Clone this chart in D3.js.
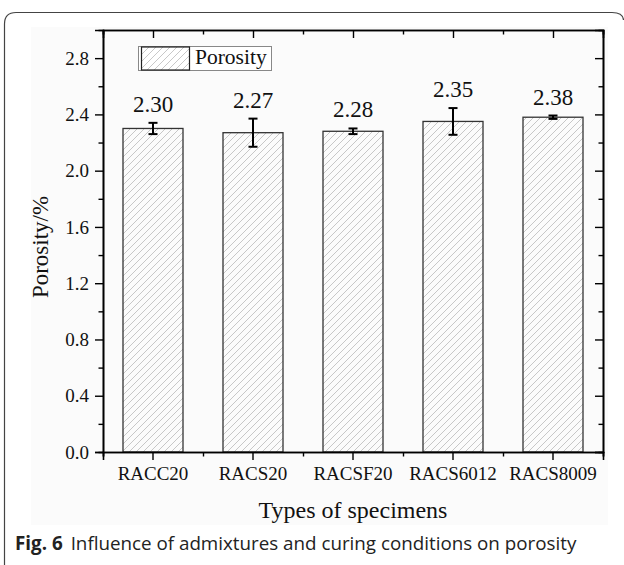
<!DOCTYPE html>
<html lang="en">
<head>
    <meta charset="UTF-8">
    <title>Porosity of specimens</title>
    <script src="https://cdn.jsdelivr.net/npm/d3@7"></script>
    <style>
        body { margin: 0; background: #fff; }
        svg { display: block; }
    </style>
</head>
<body>
<svg id="chart" width="624" height="565"></svg>
<script>
    // data
    const categories = ["RACC20", "RACS20", "RACSF20", "RACS6012", "RACS8009"];
    const porosity = [2.30, 2.27, 2.28, 2.35, 2.38];
    const errors = [0.04, 0.10, 0.02, 0.095, 0.012];
    const yTicks = [0.0, 0.4, 0.8, 1.2, 1.6, 2.0, 2.4, 2.8];
    const yMinorTicks = [0.2, 0.6, 1.0, 1.4, 1.8, 2.2, 2.6];

    const SERIF = '"Liberation Serif", "Times New Roman", serif';
    const SANS = '"Open Sans", "Noto Sans", sans-serif';

    const svg = d3.select("#chart");
    const margin = {left: 103, right: 603, top: 30, bottom: 452};

    // outer frame of the figure box (rounded top, open bottom)
    svg.append("path")
        .attr("d", "M4.5,565 L4.5,24 Q4.5,12.5 16,12.5 L612,12.5 Q623,12.5 623.5,20")
        .attr("fill", "none")
        .attr("stroke", "#444")
        .attr("stroke-width", 1.2);

    // light tint of the embedded chart image
    svg.append("rect")
        .attr("x", 31).attr("y", 27)
        .attr("width", 577).attr("height", 498)
        .attr("fill", "#fbfbfb");

    // hatch pattern
    const defs = svg.append("defs");
    const pat = defs.append("pattern")
        .attr("id", "hatch")
        .attr("patternUnits", "userSpaceOnUse")
        .attr("width", 7).attr("height", 7);
    pat.append("path")
        .attr("d", "M-1,8 L8,-1 M-1,1 L1,-1 M6,8 L8,6")
        .attr("stroke", "#b6b6b6")
        .attr("stroke-width", 0.75);

    const x = d3.scaleBand()
        .domain(categories)
        .range([margin.left, margin.right])
        .paddingInner(0.4)
        .paddingOuter(0.2);

    const y = d3.scaleLinear()
        .domain([0, 3])
        .range([margin.bottom, margin.top]);

    // bars
    svg.append("g").selectAll("rect")
        .data(categories)
        .join("rect")
        .attr("x", d => x(d))
        .attr("y", (d, i) => y(porosity[i]))
        .attr("width", x.bandwidth())
        .attr("height", (d, i) => y(0) - y(porosity[i]))
        .attr("fill", "url(#hatch)")
        .attr("stroke", "#333")
        .attr("stroke-width", 1.3);

    // error bars
    const eb = svg.append("g").attr("stroke", "#000").attr("stroke-width", 2);
    categories.forEach((c, i) => {
        const cx = x(c) + x.bandwidth() / 2;
        const y1 = y(porosity[i] + errors[i]), y2 = y(porosity[i] - errors[i]);
        eb.append("line").attr("x1", cx).attr("x2", cx).attr("y1", y1).attr("y2", y2);
        eb.append("line").attr("x1", cx - 4.5).attr("x2", cx + 4.5).attr("y1", y1).attr("y2", y1);
        eb.append("line").attr("x1", cx - 4.5).attr("x2", cx + 4.5).attr("y1", y2).attr("y2", y2);
    });

    // value labels
    svg.append("g").selectAll("text")
        .data(categories)
        .join("text")
        .attr("x", d => x(d) + x.bandwidth() / 2)
        .attr("y", (d, i) => y(porosity[i] + errors[i]) - 11)
        .attr("text-anchor", "middle")
        .style("font-family", SERIF)
        .style("font-size", "23px")
        .style("fill", "#111")
        .text((d, i) => porosity[i].toFixed(2));

    // axes
    const centers = categories.map(c => x(c) + x.bandwidth() / 2);
    const edges = d3.range(categories.length + 1).map(i => margin.left + i * x.step());
    const xPos = d3.scaleLinear().domain([margin.left, margin.right]).range([margin.left, margin.right]);

    function styleAxis(g) {
        g.select(".domain").attr("stroke", "#000").attr("stroke-width", 1.6);
        g.selectAll(".tick line").attr("stroke", "#000").attr("stroke-width", 1.4);
        g.selectAll("text")
            .style("font-family", SERIF)
            .style("font-size", "19px")
            .style("fill", "#111");
    }

    // bottom
    svg.append("g")
        .attr("transform", `translate(0,${margin.bottom})`)
        .call(d3.axisBottom(x).tickSize(8).tickPadding(6.5))
        .call(styleAxis);
    svg.append("g")
        .attr("transform", `translate(0,${margin.bottom})`)
        .call(d3.axisBottom(xPos).tickValues(edges).tickSize(4.5).tickFormat(""))
        .call(styleAxis);

    // top
    svg.append("g")
        .attr("transform", `translate(0,${margin.top})`)
        .call(d3.axisTop(xPos).tickValues(centers).tickSize(-8).tickFormat(""))
        .call(styleAxis);
    svg.append("g")
        .attr("transform", `translate(0,${margin.top})`)
        .call(d3.axisTop(xPos).tickValues(edges).tickSize(-4.5).tickFormat(""))
        .call(styleAxis);

    // left
    svg.append("g")
        .attr("transform", `translate(${margin.left},0)`)
        .call(d3.axisLeft(y).tickValues(yTicks).tickFormat(d3.format(".1f")).tickSize(8).tickPadding(6))
        .call(styleAxis);
    svg.append("g")
        .attr("transform", `translate(${margin.left},0)`)
        .call(d3.axisLeft(y).tickValues(yMinorTicks).tickSize(4.5).tickFormat(""))
        .call(styleAxis);

    // right
    svg.append("g")
        .attr("transform", `translate(${margin.right},0)`)
        .call(d3.axisRight(y).tickValues(yTicks).tickSize(-8).tickFormat(""))
        .call(styleAxis);
    svg.append("g")
        .attr("transform", `translate(${margin.right},0)`)
        .call(d3.axisRight(y).tickValues(yMinorTicks).tickSize(-4.5).tickFormat(""))
        .call(styleAxis);

    // axis titles
    svg.append("text")
        .attr("transform", "translate(48,247) rotate(-90)")
        .attr("text-anchor", "middle")
        .style("font-family", SERIF)
        .style("font-size", "23px")
        .style("fill", "#111")
        .text("Porosity/%");

    svg.append("text")
        .attr("x", 353).attr("y", 518)
        .attr("text-anchor", "middle")
        .style("font-family", SERIF)
        .style("font-size", "24px")
        .style("fill", "#111")
        .text("Types of specimens");

    // legend
    const legend = svg.append("g");
    legend.append("rect")
        .attr("x", 138.5).attr("y", 46.5).attr("width", 133).attr("height", 24)
        .attr("fill", "#fff").attr("stroke", "#888").attr("stroke-width", 1);
    legend.append("rect")
        .attr("x", 141.5).attr("y", 47).attr("width", 48).attr("height", 23)
        .attr("fill", "url(#hatch)").attr("stroke", "#222").attr("stroke-width", 1.2);
    legend.append("text")
        .attr("x", 195).attr("y", 63.5)
        .style("font-family", SERIF)
        .style("font-size", "21.5px")
        .style("fill", "#111")
        .text("Porosity");

    // caption
    const cap = svg.append("text")
        .attr("x", 15).attr("y", 550)
        .style("font-family", SANS)
        .style("font-size", "18.8px")
        .style("fill", "#222");
    cap.append("tspan").attr("font-weight", "bold").text("Fig. 6");
    cap.append("tspan").attr("dx", 8).text("Influence of admixtures and curing conditions on porosity");
</script>
</body>
</html>
